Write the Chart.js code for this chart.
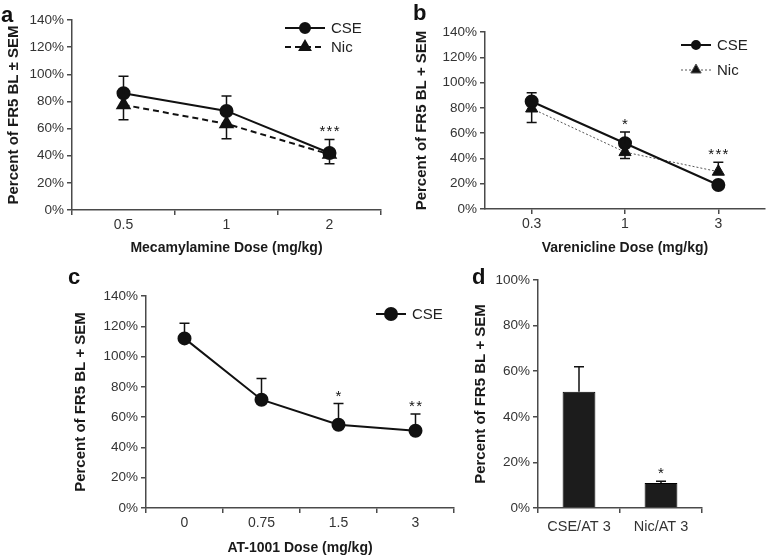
<!DOCTYPE html>
<html>
<head>
<meta charset="utf-8">
<script src="https://cdn.jsdelivr.net/npm/chart.js@4.4.1/dist/chart.umd.min.js"></script>
<style>
  body { margin: 0; background: #fff; font-family: "Liberation Sans", Arial, sans-serif; }
  #page { position: relative; width: 773px; height: 557px; overflow: hidden; }
  #page canvas { position: absolute; }
  .tag { position: absolute; font-size: 22px; font-weight: bold; line-height: 22px; color: #111; }
</style>
</head>
<body>
<div id="page">
  <canvas id="chartA" width="390" height="265" style="left:0;top:0"></canvas>
  <canvas id="chartB" width="383" height="265" style="left:390px;top:0"></canvas>
  <canvas id="chartC" width="470" height="292" style="left:0;top:265px"></canvas>
  <canvas id="chartD" width="303" height="292" style="left:470px;top:265px"></canvas>
  <div class="tag" style="left:1px;top:4px">a</div>
  <div class="tag" style="left:413px;top:2px">b</div>
  <div class="tag" style="left:68px;top:266px">c</div>
  <div class="tag" style="left:472px;top:266px">d</div>
</div>
<script>
// a: mecamylamine
const doseA = ["0.5", "1", "2"];
const cseA = [86, 73, 42];
const cseA_sem = [12.5, 11, 10];
const nicA = [77.5, 63.5, 41];
const nicA_sem = [11, 11, 7];
const sigA = ["", "", "***"];

// b: varenicline
const doseB = ["0.3", "1", "3"];
const cseB = [85, 52, 19];
const cseB_up = [7, 9, 0];
const nicB = [79.5, 45, 29.5];
const nicB_up = [0, 0, 7.5];
const nicB_down = [11, 5, 0];
const sigB = ["", "*", "***"];

// c: AT-1001
const doseC = ["0", "0.75", "1.5", "3"];
const cseC = [112, 71.5, 55, 51];
const cseC_sem = [10, 14, 14, 11];
const sigC = ["", "", "*", "**"];

// d: bars
const groupsD = ["CSE/AT 3", "Nic/AT 3"];
const barsD = [51, 11];
const barsD_sem = [11, 0.7];
const sigD = ["", "*"];

const INK = "#111";
const AXIS = "#4a4a4a";
const TICK_TEXT = "#333";
Chart.defaults.font.family = '"Liberation Sans", Arial, sans-serif';

// error bars (+/- SEM) and the significance stars above them
const errorBars = {
  id: "errorBars",
  afterDatasetsDraw(chart, args, opts) {
    const ctx = chart.ctx;
    const yScale = chart.scales.y;
    const tops = [];
    ctx.save();
    ctx.strokeStyle = INK;
    ctx.lineWidth = 1.5;
    chart.data.datasets.forEach((ds, i) => {
      const meta = chart.getDatasetMeta(i);
      meta.data.forEach((el, j) => {
        const v = ds.data[j];
        const yv = yScale.getPixelForValue(v);
        let top = yv - (ds.pointRadius || 0);
        [[ds.errUp, 1], [ds.errDown, -1]].forEach(([arr, dir]) => {
          if (!arr || !arr[j]) return;
          const y1 = yScale.getPixelForValue(v + dir * arr[j]);
          ctx.beginPath();
          ctx.moveTo(el.x, yv);
          ctx.lineTo(el.x, y1);
          ctx.moveTo(el.x - 5, y1);
          ctx.lineTo(el.x + 5, y1);
          ctx.stroke();
          top = Math.min(top, y1);
        });
        if (chart.config.type === "bar") top = Math.min(top, yv);
        tops[j] = tops[j] === undefined ? top : Math.min(tops[j], top);
      });
    });
    const meta0 = chart.getDatasetMeta(0);
    ctx.fillStyle = INK;
    ctx.font = '15px "Liberation Sans", Arial, sans-serif';
    ctx.textAlign = "center";
    ctx.textBaseline = "alphabetic";
    (opts.sig || []).forEach((s, j) => {
      if (!s) return;
      ctx.fillText(s.split("").join("\u200a"), meta0.data[j].x, tops[j] - 3);
    });
    ctx.restore();
  },
};

// legend drawn as line sample + marker + label
const sampleLegend = {
  id: "sampleLegend",
  afterDraw(chart, args, opts) {
    if (!opts.x) return;
    const ctx = chart.ctx;
    ctx.save();
    chart.data.datasets.forEach((ds, i) => {
      const y = opts.y + i * opts.gap;
      ctx.strokeStyle = ds.borderColor;
      ctx.lineWidth = ds.borderWidth;
      ctx.setLineDash(ds.borderDash || []);
      ctx.beginPath();
      ctx.moveTo(opts.x, y);
      ctx.lineTo(opts.x + opts.len, y);
      ctx.stroke();
      ctx.setLineDash([]);
      ctx.fillStyle = INK;
      Chart.helpers.drawPoint(ctx, {
        pointStyle: ds.pointStyle,
        radius: (opts.radius && opts.radius[i]) || ds.pointRadius,
        rotation: 0,
        borderWidth: 1,
      }, opts.x + opts.len / 2, y);
      ctx.fillStyle = "#222";
      ctx.font = '15px "Liberation Sans", Arial, sans-serif';
      ctx.textAlign = "left";
      ctx.textBaseline = "middle";
      ctx.fillText(ds.label, opts.x + opts.len + 6, y + 1);
    });
    ctx.restore();
  },
};

function buildOptions(g) {
  const yHalf = (15 * 1.2) / 2;
  const xHalf = (14 * 1.2) / 2;
  const padLeft = g.yTitleX - yHalf;
  const xBottom = g.xTitleY ? g.xTitleY + xHalf : g.boxH;
  return {
    responsive: false,
    animation: false,
    layout: {
      padding: { left: padLeft, top: g.area.t, right: g.boxW - g.area.r, bottom: g.boxH - xBottom },
    },
    plugins: {
      legend: { display: false },
      tooltip: { enabled: false },
      errorBars: { sig: g.sig },
      sampleLegend: g.legend || {},
    },
    scales: {
      x: {
        offset: true,
        grid: { offset: g.gridOffset, drawOnChartArea: false, tickLength: 5, color: AXIS, lineWidth: 1.5 },
        border: { color: AXIS, width: 1.5 },
        ticks: { color: TICK_TEXT, font: { size: g.xTickSize || 14 }, padding: g.xTickPad || 2, maxRotation: 0, autoSkip: false },
        title: { display: !!g.xTitle, text: g.xTitle, color: "#1a1a1a", font: { size: 14, weight: "bold", lineHeight: 1.2 }, padding: 0 },
        afterFit: (s) => { s.height = xBottom - g.area.b; },
      },
      y: {
        min: 0,
        max: g.yMax,
        ticks: { stepSize: 20, color: TICK_TEXT, font: { size: 13.5 }, padding: 3, callback: (v) => v + "%" },
        grid: { drawOnChartArea: false, tickLength: 5, color: AXIS, lineWidth: 1.5 },
        border: { color: AXIS, width: 1.5 },
        title: { display: true, text: g.yTitle, color: "#1a1a1a", font: { size: 15, weight: "bold", lineHeight: 1.2 }, padding: 0 },
        afterFit: (s) => { s.width = g.area.l - padLeft; },
      },
    },
  };
}

function cseSet(values, up) {
  return {
    label: "CSE", data: values, errUp: up,
    borderColor: INK, backgroundColor: INK, borderWidth: 2,
    pointStyle: "circle", pointRadius: 6, pointBackgroundColor: INK, pointBorderColor: INK,
    tension: 0,
  };
}

new Chart(document.getElementById("chartA"), {
  type: "line",
  data: {
    labels: doseA,
    datasets: [
      cseSet(cseA, cseA_sem),
      {
        label: "Nic", data: nicA, errDown: nicA_sem,
        borderColor: INK, borderWidth: 2, borderDash: [6, 4],
        pointStyle: "triangle", pointRadius: 7, pointBackgroundColor: INK, pointBorderColor: INK,
      },
    ],
  },
  options: buildOptions({
    boxW: 390, boxH: 265, area: { l: 72, t: 20, r: 385, b: 210 },
    yTitleX: 14, xTitleY: 248, yMax: 140, gridOffset: true, sig: sigA,
    yTitle: "Percent of FR5 BL \u00b1 SEM", xTitle: "Mecamylamine Dose (mg/kg)",
    legend: { x: 285, y: 28, gap: 19, len: 40, radius: [5, 6] },
  }),
  plugins: [errorBars, sampleLegend],
});

new Chart(document.getElementById("chartB"), {
  type: "line",
  data: {
    labels: doseB,
    datasets: [
      cseSet(cseB, cseB_up),
      {
        label: "Nic", data: nicB, errUp: nicB_up, errDown: nicB_down,
        borderColor: "#555", borderWidth: 1, borderDash: [2, 2],
        pointStyle: "triangle", pointRadius: 7, pointBackgroundColor: INK, pointBorderColor: INK,
      },
    ],
  },
  options: buildOptions({
    boxW: 383, boxH: 265, area: { l: 95, t: 32, r: 382, b: 209 },
    yTitleX: 32, xTitleY: 248, yMax: 140, gridOffset: false, sig: sigB,
    yTitle: "Percent of FR5 BL + SEM", xTitle: "Varenicline Dose (mg/kg)",
    legend: { x: 291, y: 45, gap: 25, len: 30, radius: [4, 6] },
  }),
  plugins: [errorBars, sampleLegend],
});

new Chart(document.getElementById("chartC"), {
  type: "line",
  data: { labels: doseC, datasets: [cseSet(cseC, cseC_sem)] },
  options: buildOptions({
    boxW: 470, boxH: 292, area: { l: 146, t: 31, r: 454, b: 243 },
    yTitleX: 81, xTitleY: 283, yMax: 140, gridOffset: true, sig: sigC,
    yTitle: "Percent of FR5 BL + SEM", xTitle: "AT-1001 Dose (mg/kg)",
    legend: { x: 376, y: 49, gap: 0, len: 30, radius: [6] },
  }),
  plugins: [errorBars, sampleLegend],
});

new Chart(document.getElementById("chartD"), {
  type: "bar",
  data: {
    labels: groupsD,
    datasets: [{
      label: "FR5", data: barsD, errUp: barsD_sem,
      backgroundColor: "#1c1c1c", borderColor: "#000", borderWidth: 1,
      categoryPercentage: 1, barPercentage: 0.4,
    }],
  },
  options: buildOptions({
    boxW: 303, boxH: 292, area: { l: 68, t: 15, r: 232, b: 243 },
    yTitleX: 11, xTitleY: 0, yMax: 100, gridOffset: true, sig: sigD,
    yTitle: "Percent of FR5 BL + SEM", xTitle: "", xTickSize: 14.5, xTickPad: 5,
  }),
  plugins: [errorBars],
});
</script>
</body>
</html>
